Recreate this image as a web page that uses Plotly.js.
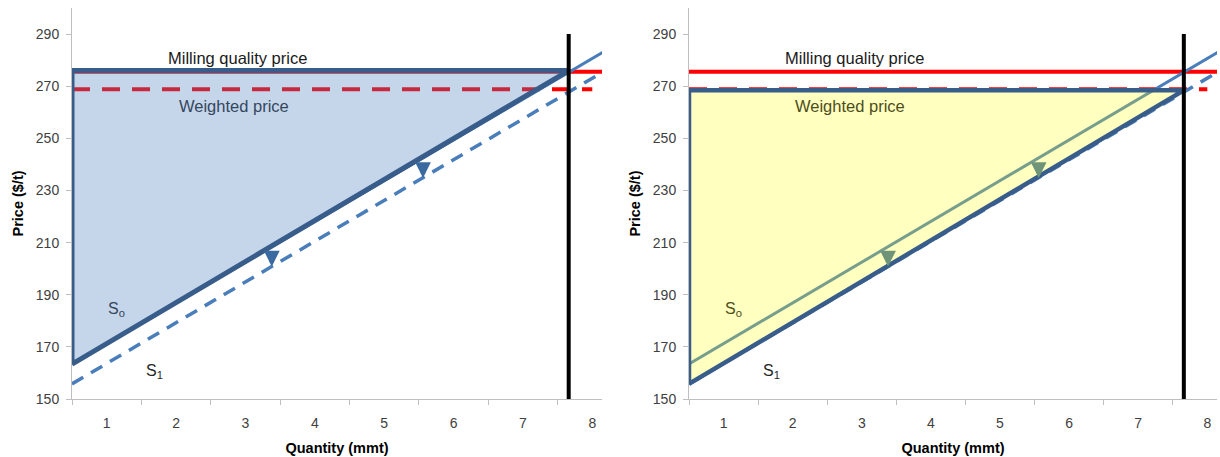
<!DOCTYPE html>
<html>
<head>
<meta charset="utf-8">
<script src="https://cdn.plot.ly/plotly-3.0.1.min.js"></script>
<style>
  html, body { margin: 0; padding: 0; background: #ffffff; }
  #chart { width: 1220px; height: 457px; }
</style>
</head>
<body>
<div id="chart"></div>
<script>
// ---- Data ----
const quantityTicks = [1, 2, 3, 4, 5, 6, 7, 8];
const quantityTickText = ['1', '2', '3', '4', '5', '6', '7', '8'];
const priceTicks = [150, 170, 190, 210, 230, 250, 270, 290];

// horizontal price lines
const millingX = [0.5, 8.2];
const millingY = [275.5, 275.5];
const weightedX = [0.5, 8.0];
const weightedY = [268.8, 268.8];

// supply curves (end points)
const supplyX = [0.5, 8.2];
const s0Y = [163.4, 283.8];
const s1Y = [155.8, 276.2];

// capacity (vertical line)
const capacityX = [7.66, 7.66];
const capacityY = [150, 290];

// shaded surplus triangles
const leftAreaX = [0.5, 0.5, 7.66, 0.5];
const leftAreaY = [163.4, 276.0, 276.0, 163.4];
const rightAreaX = [0.5, 0.5, 7.66, 0.5];
const rightAreaY = [155.8, 268.4, 268.4, 155.8];

// shift arrows (tip positions)
const arrowX = [3.38, 5.56];
const arrowY = [200.8, 234.8];

// text labels
const millingLabel = {text: 'Milling quality price', x: 2.89, y: 281};
const weightedLabel = {text: 'Weighted price', x: 2.83, y: 262.5};
const s0Label = {text: 'S<sub>o</sub>', x: 1.14, y: 184.5};
const s1Label = {text: 'S<sub>1</sub>', x: 1.69, y: 160.5};

// ---- Styles ----
const RED = '#ff0000';
const LIGHTBLUE = '#4a7ebb';
const DARKBLUE = '#385d8a';
const FONT = 'Liberation Sans, Arial, sans-serif';

function panelTraces(xa, ya, panel) {
  const t = [];
  t.push({x: millingX, y: millingY, xaxis: xa, yaxis: ya, mode: 'lines',
          line: {color: RED, width: 4}, hoverinfo: 'skip'});
  t.push({x: weightedX, y: weightedY, xaxis: xa, yaxis: ya, mode: 'lines',
          line: {color: RED, width: 4, dash: '18px,12px'}, hoverinfo: 'skip'});
  t.push({x: supplyX, y: s1Y, xaxis: xa, yaxis: ya, mode: 'lines',
          line: {color: LIGHTBLUE, width: 3.5, dash: '13px,9px'}, hoverinfo: 'skip'});
  t.push({x: supplyX, y: s0Y, xaxis: xa, yaxis: ya, mode: 'lines',
          line: {color: LIGHTBLUE, width: 3}, hoverinfo: 'skip'});
  if (panel === 'left') {
    t.push({x: leftAreaX, y: leftAreaY, xaxis: xa, yaxis: ya, mode: 'lines',
            fill: 'toself', fillcolor: 'rgba(79,129,189,0.32)',
            line: {color: DARKBLUE, width: 5}, hoverinfo: 'skip'});
  } else {
    t.push({x: rightAreaX, y: rightAreaY, xaxis: xa, yaxis: ya, mode: 'lines',
            fill: 'toself', fillcolor: 'rgba(255,255,0,0.25)',
            line: {color: DARKBLUE, width: 4.5}, hoverinfo: 'skip'});
  }
  t.push({x: capacityX, y: capacityY, xaxis: xa, yaxis: ya, mode: 'lines',
          line: {color: '#000000', width: 4}, hoverinfo: 'skip'});
  return t;
}

const data = [].concat(panelTraces('x', 'y', 'left'), panelTraces('x2', 'y2', 'right'));

function xAxis(domain, anchor) {
  return {
    domain: domain, anchor: anchor, range: [0.5, 8.14],
    tickmode: 'array', tickvals: quantityTicks, ticktext: quantityTickText,
    ticks: '', ticklabelstandoff: 11,
    minor: {ticks: 'outside', tick0: 0.5, dtick: 1, ticklen: 5, tickcolor: '#bfbfbf', tickwidth: 1},
    showline: true, linecolor: '#bfbfbf', linewidth: 1,
    showgrid: false, zeroline: false,
    tickfont: {family: FONT, size: 14, color: '#404040'},
    title: {text: 'Quantity (mmt)', standoff: 13,
            font: {family: FONT, size: 14.5, color: '#000000', weight: 'bold'}},
    automargin: false, fixedrange: true
  };
}
function yAxis(domain, anchor) {
  return {
    domain: domain, anchor: anchor, range: [150, 300],
    tickmode: 'array', tickvals: priceTicks,
    ticks: 'outside', ticklen: 5, tickcolor: '#bfbfbf', tickwidth: 1,
    ticklabelstandoff: 4,
    showline: true, linecolor: '#bfbfbf', linewidth: 1,
    showgrid: false, zeroline: false,
    tickfont: {family: FONT, size: 14, color: '#404040'},
    title: {text: 'Price ($/t)', standoff: 8,
            font: {family: FONT, size: 14.5, color: '#000000', weight: 'bold'}},
    automargin: false, fixedrange: true
  };
}

const yDom = [1 - 399 / 457, 1 - 8 / 457];

function labels(xr, yr, panel) {
  const tint = panel === 'left' ? '#34465e' : '#4d4d1c';
  const a = [
    {xref: xr, yref: yr, x: millingLabel.x, y: millingLabel.y, text: millingLabel.text,
     showarrow: false, font: {family: FONT, size: 16.5, color: '#1a1a1a'}},
    {xref: xr, yref: yr, x: weightedLabel.x, y: weightedLabel.y, text: weightedLabel.text,
     showarrow: false, font: {family: FONT, size: 16.5, color: tint}},
    {xref: xr, yref: yr, x: s0Label.x, y: s0Label.y, text: s0Label.text,
     showarrow: false, font: {family: FONT, size: 16, color: tint}},
    {xref: xr, yref: yr, x: s1Label.x, y: s1Label.y, text: s1Label.text,
     showarrow: false, font: {family: FONT, size: 16, color: '#262626'}}
  ];
  for (let i = 0; i < arrowX.length; i++) {
    a.push({xref: xr, yref: yr, x: arrowX[i], y: arrowY[i], ax: 0, ay: -9, text: '',
            showarrow: true, arrowhead: 2, arrowsize: 0.7, arrowwidth: 4.5,
            arrowcolor: panel === 'left' ? '#3b6aa0' : '#6f9478'});
  }
  return a;
}

const layout = {
  width: 1220, height: 457,
  margin: {l: 0, r: 0, t: 0, b: 0},
  paper_bgcolor: '#ffffff', plot_bgcolor: '#ffffff',
  showlegend: false,
  xaxis: xAxis([72 / 1220, 602 / 1220], 'y'),
  yaxis: yAxis(yDom, 'x'),
  xaxis2: xAxis([689 / 1220, 1217 / 1220], 'y2'),
  yaxis2: yAxis(yDom, 'x2'),
  annotations: [].concat(labels('x', 'y', 'left'), labels('x2', 'y2', 'right')),
  font: {family: FONT}
};

Plotly.newPlot('chart', data, layout, {displayModeBar: false, staticPlot: true});
</script>
</body>
</html>
